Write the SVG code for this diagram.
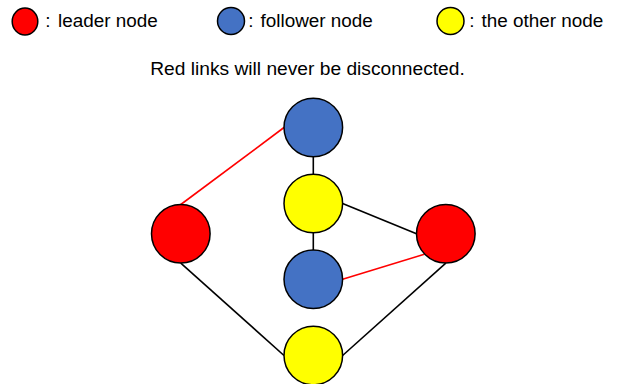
<svg xmlns="http://www.w3.org/2000/svg" width="618" height="384" viewBox="0 0 618 384">
  <style>
    text { font-family: "Liberation Sans", Arial, sans-serif; fill: #000; }
    .legend { font-size: 18.9px; }
    .title { font-size: 19.2px; }
    .node { stroke: #000; stroke-width: 1.5; }
    .leader { fill: #FF0000; }
    .follower { fill: #4472C4; }
    .other { fill: #FFFF00; }
    .link { stroke: #000; stroke-width: 1.6; fill: none; }
    .link.fixed { stroke: #FF0000; }
  </style>

  <!-- legend -->
  <g id="legend">
    <ellipse class="node leader" cx="25" cy="21.5" rx="12.8" ry="13.5"/>
    <text class="legend" x="45.3" y="26.5">:</text>
    <text class="legend" x="58" y="26.5">leader node</text>

    <ellipse class="node follower" cx="231" cy="21" rx="13.5" ry="13.5"/>
    <text class="legend" x="248.3" y="26.5">:</text>
    <text class="legend" x="260.5" y="26.5">follower node</text>

    <ellipse class="node other" cx="450.5" cy="21" rx="13.5" ry="13.5"/>
    <text class="legend" x="469.3" y="26.5">:</text>
    <text class="legend" x="481.5" y="26.5">the other node</text>
  </g>

  <text class="title" x="307.5" y="74.5" text-anchor="middle">Red links will never be disconnected.</text>

  <!-- connectors -->
  <g id="links">
    <line class="link fixed" x1="180.8" y1="204.5" x2="284" y2="127.5"/>
    <line class="link" x1="313.3" y1="156.8" x2="313.3" y2="174.2"/>
    <line class="link" x1="313.3" y1="232.8" x2="313.3" y2="250"/>
    <line class="link" x1="342.6" y1="203.5" x2="416.5" y2="233.8"/>
    <line class="link fixed" x1="342.6" y1="279.3" x2="424.3" y2="254.3"/>
    <line class="link" x1="180.8" y1="263.1" x2="284" y2="355.5"/>
    <line class="link" x1="342.6" y1="355.5" x2="445.8" y2="263.1"/>
  </g>

  <!-- nodes -->
  <g id="follower-top"><circle class="node follower" cx="313.3" cy="127.5" r="29.3"/></g>
  <g id="other-mid"><circle class="node other" cx="313.3" cy="203.5" r="29.3"/></g>
  <g id="follower-low"><circle class="node follower" cx="313.3" cy="279.3" r="29.3"/></g>
  <g id="other-bottom"><circle class="node other" cx="313.3" cy="355.5" r="29.3"/></g>
  <g id="leader-left"><circle class="node leader" cx="180.8" cy="233.8" r="29.3"/></g>
  <g id="leader-right"><circle class="node leader" cx="445.8" cy="233.8" r="29.3"/></g>
</svg>
